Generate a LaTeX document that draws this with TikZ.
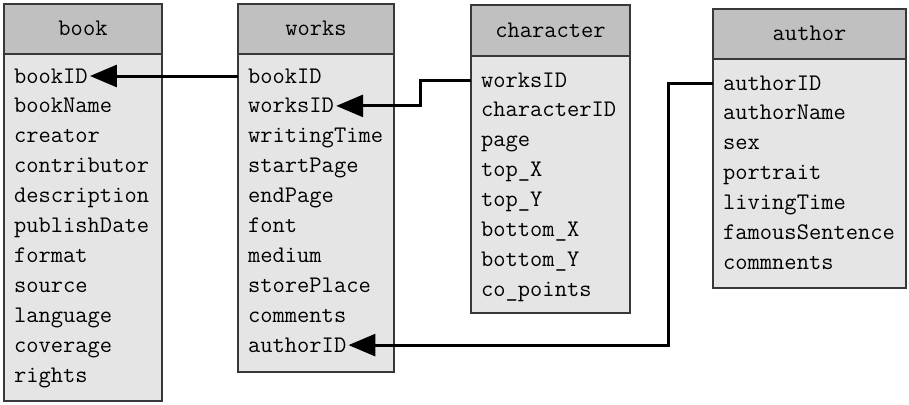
\documentclass[tikz,border=0pt]{standalone}
\usetikzlibrary{arrows.meta}
\definecolor{hdr}{HTML}{C0C0C0}
\definecolor{bdy}{HTML}{E5E5E5}
\definecolor{edgec}{HTML}{383838}
\newcommand\fieldfont{\ttfamily\fontsize{23.8}{30}\selectfont}
\tikzset{
  tblhead/.style={draw=edgec, fill=hdr, line width=1.4pt, outer sep=0pt, inner sep=0pt},
  tblbody/.style={draw=edgec, fill=bdy, line width=1.4pt, outer sep=0pt, inner sep=0pt},
  fld/.style={anchor=west, inner sep=0pt, text height=14pt, text depth=0pt, font=\fieldfont},
  ttl/.style={inner sep=0pt, text height=14pt, text depth=0pt, font=\fieldfont},
  link/.style={line width=3pt, -{Triangle[length=27pt,width=22pt]}, shorten >=2pt},
}
\newcommand\dbtable[9]{%
  \node[tblhead, anchor=north west, minimum width={#4-#3}, minimum height={#6-#5}] (#1-head) at (#3,-#5) {};
  \node[tblbody, anchor=north west, minimum width={#4-#3}, minimum height={#7-#6}] (#1-body) at (#3,-#6) {};
  \node[ttl] (#1-title) at (#1-head.center) {#2};
  \foreach \f [count=\i] in {#9} {
    \pgfmathsetmacro\yy{-(#8+(\i-1)*29.9)}
    \node[fld] (#1-\i) at (#3+10,\yy) {\f};
  }%
}
\begin{document}
\begin{tikzpicture}[x=1pt,y=1pt]
\useasboundingbox (0,0) rectangle (909,-404);
\dbtable{book}{book}{4}{162}{4}{54}{401}{76}{bookID,bookName,creator,contributor,description,publishDate,format,source,language,coverage,rights}
\dbtable{works}{works}{238}{394}{4}{54}{372}{76}{bookID,worksID,writingTime,startPage,endPage,font,medium,storePlace,comments,authorID}
\dbtable{character}{character}{471}{630}{5}{56}{313}{80}{worksID,characterID,page,top\_X,top\_Y,bottom\_X,bottom\_Y,co\_points}
\dbtable{author}{author}{713}{906}{9}{59}{288}{83}{authorID,authorName,sex,portrait,livingTime,famousSentence,commnents}
\draw[link] (works-body.west |- works-1) -- (book-1.east);
\draw[link] (character-body.west |- character-1) -- ++(-51,0) |- (works-2.east);
\draw[link] (author-body.west |- author-1) -- ++(-45,0) |- (works-10.east);
\end{tikzpicture}
\end{document}
